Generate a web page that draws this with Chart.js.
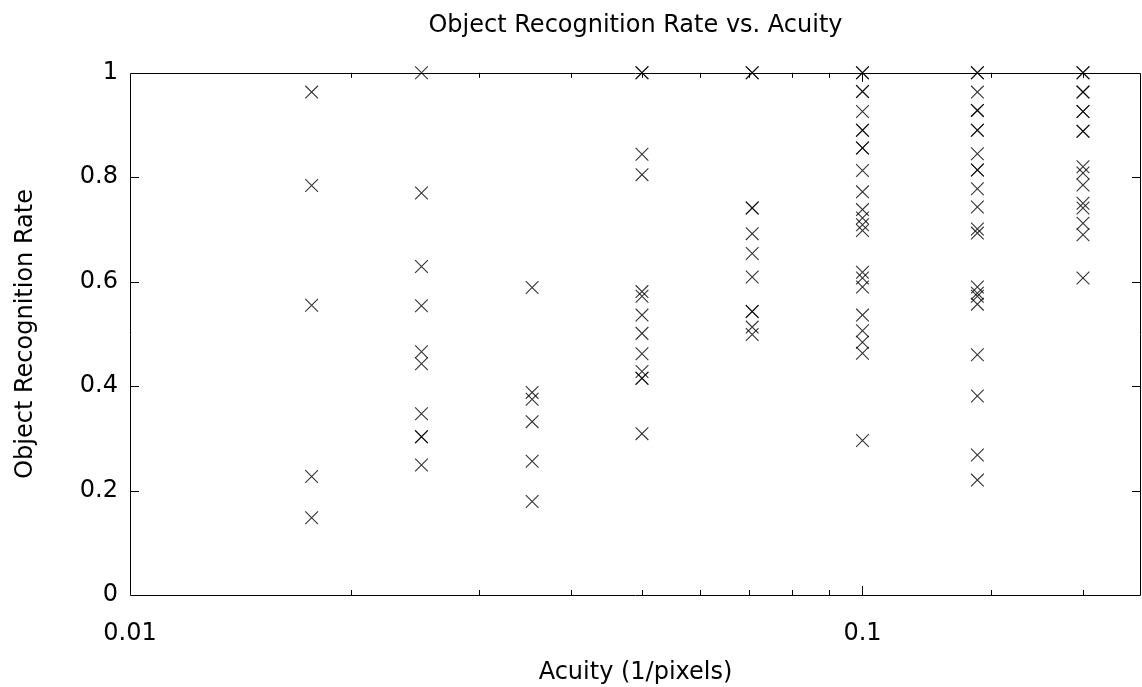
<!DOCTYPE html>
<html>
<head>
<meta charset="utf-8">
<script src="https://cdn.jsdelivr.net/npm/chart.js@4/dist/chart.umd.min.js"></script>
<style>
  html, body { margin: 0; padding: 0; background: #fff; overflow: hidden; }
  #wrap { width: 1142px; height: 687px; }
  canvas { display: block; }
</style>
</head>
<body>
<div id="wrap"><canvas id="chart"></canvas></div>
<script>
// acuity levels (1/pixels), one column of points each
const acuityLevels = [0.0177, 0.025, 0.0354, 0.05, 0.0707, 0.1, 0.1435, 0.2];

const rates0177 = [0.963, 0.784, 0.555, 0.227, 0.148];
const rates0250 = [1.0, 0.77, 0.629, 0.554, 0.466, 0.443, 0.347, 0.303, 0.303, 0.249];
const rates0354 = [0.589, 0.388, 0.375, 0.332, 0.256, 0.179];
const rates0500 = [1.0, 1.0, 0.844, 0.805, 0.581, 0.572, 0.536, 0.501, 0.462, 0.428, 0.415, 0.415, 0.309];
const rates0707 = [1.0, 1.0, 0.741, 0.741, 0.692, 0.654, 0.609, 0.543, 0.543, 0.513, 0.499];
const rates1000 = [1.0, 1.0, 0.964, 0.964, 0.926, 0.890, 0.890, 0.856, 0.856, 0.813, 0.772,
                   0.738, 0.722, 0.709, 0.698, 0.618, 0.607, 0.590, 0.536, 0.506, 0.484, 0.463, 0.296];
const rates1414 = [1.0, 1.0, 0.963, 0.928, 0.928, 0.890, 0.890, 0.845, 0.814, 0.814, 0.778,
                   0.743, 0.701, 0.693, 0.590, 0.578, 0.572, 0.557, 0.460, 0.381, 0.268, 0.220];
const rates2000 = [1.0, 1.0, 0.963, 0.963, 0.926, 0.926, 0.888, 0.888, 0.820, 0.808, 0.785,
                   0.750, 0.741, 0.712, 0.690, 0.607];

const rateColumns = [rates0177, rates0250, rates0354, rates0500, rates0707, rates1000, rates1414, rates2000];

const yTicks = [0, 0.2, 0.4, 0.6, 0.8, 1];

const points = [];
rateColumns.forEach(function(col, i) {
  col.forEach(function(r) { points.push({ x: acuityLevels[i], y: r }); });
});

function isDecade(v) {
  const l = Math.log10(v);
  return Math.abs(l - Math.round(l)) < 1e-6;
}

// gnuplot style frame with inward ticks on all four sides
const framePlugin = {
  id: 'frame',
  afterDatasetsDraw(chart) {
    const { ctx, chartArea: a } = chart;
    const xs = chart.scales.x, ys = chart.scales.y;
    ctx.save();
    ctx.strokeStyle = '#000';
    ctx.lineWidth = 1;
    ctx.beginPath();
    ctx.rect(Math.round(a.left) + 0.5, Math.round(a.top) + 0.5,
             Math.round(a.right - a.left) - 1, Math.round(a.bottom - a.top));
    xs.ticks.forEach(function(t) {
      if (t.value <= xs.min || t.value >= xs.max) return;
      const px = Math.round(xs.getPixelForValue(t.value)) + 0.5;
      const len = isDecade(t.value) ? 9 : 5;
      ctx.moveTo(px, a.bottom); ctx.lineTo(px, a.bottom - len);
      ctx.moveTo(px, a.top); ctx.lineTo(px, a.top + len);
    });
    ys.ticks.forEach(function(t) {
      if (t.value <= ys.min || t.value >= ys.max) return;
      const py = Math.round(ys.getPixelForValue(t.value)) + 0.5;
      ctx.moveTo(a.left, py); ctx.lineTo(a.left + 9, py);
      ctx.moveTo(a.right, py); ctx.lineTo(a.right - 9, py);
    });
    ctx.stroke();
    ctx.restore();
  }
};

const font = { family: 'DejaVu Sans', size: 24 };

new Chart(document.getElementById('chart').getContext('2d'), {
  type: 'scatter',
  data: {
    datasets: [{
      label: 'rate',
      data: points,
      pointStyle: 'crossRot',
      pointRadius: 9,
      pointHoverRadius: 9,
      pointBorderWidth: 1.1,
      borderColor: 'rgba(0,0,0,0.8)',
      backgroundColor: 'rgba(0,0,0,0.8)',
      clip: false
    }]
  },
  options: {
    responsive: true,
    maintainAspectRatio: false,
    animation: false,
    layout: { autoPadding: false, padding: { left: 0, right: 1, top: 0, bottom: 0 } },
    plugins: {
      legend: { display: false },
      tooltip: { enabled: false },
      title: {
        display: true,
        text: 'Object Recognition Rate vs. Acuity',
        color: '#000',
        font: { family: 'DejaVu Sans', size: 24, weight: 'normal' },
        fullSize: false,
        padding: { top: 11, bottom: 33 }
      }
    },
    scales: {
      x: {
        type: 'logarithmic',
        min: 0.01,
        max: 0.24,
        grid: { display: false, drawTicks: false },
        border: { display: false },
        ticks: {
          autoSkip: false,
          maxRotation: 0,
          padding: 24,
          color: '#000',
          font: font,
          callback: function(value) {
            return isDecade(value) ? String(Number(value.toPrecision(3))) : '';
          }
        },
        title: {
          display: true,
          text: 'Acuity (1/pixels)',
          color: '#000',
          font: font,
          padding: { top: 0, bottom: 0 }
        },
        afterFit: function(scale) {
          scale.height = 92;
          scale.paddingLeft = 0;
          scale.paddingRight = 0;
        }
      },
      y: {
        min: 0,
        max: 1,
        grid: { display: false, drawTicks: false },
        border: { display: false },
        afterBuildTicks: function(scale) {
          scale.ticks = yTicks.map(function(v) { return { value: v }; });
        },
        ticks: {
          padding: 12,
          color: '#000',
          font: font,
          callback: function(value) { return String(value); }
        },
        title: {
          display: true,
          text: 'Object Recognition Rate',
          color: '#000',
          font: font,
          padding: { top: 11, bottom: 0 }
        },
        afterFit: function(scale) {
          scale.width = 130;
          scale.paddingTop = 0;
          scale.paddingBottom = 0;
          scale.paddingLeft = 0;
          scale.paddingRight = 0;
        }
      }
    }
  },
  plugins: [framePlugin]
});
</script>
</body>
</html>
